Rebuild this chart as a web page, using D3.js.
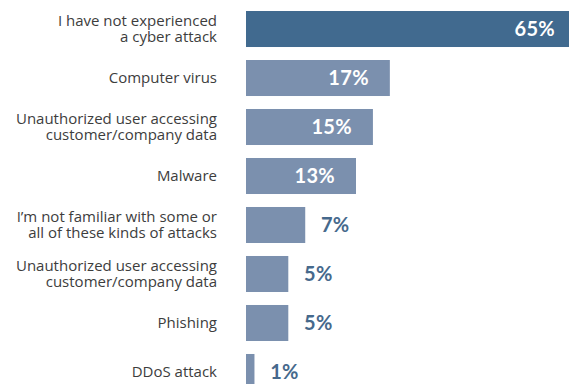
<!DOCTYPE html>
<html>
<head>
<meta charset="utf-8">
<script src="https://cdn.jsdelivr.net/npm/d3@7"></script>
<style>
  body { margin: 0; background: #fff; }
  svg { display: block; }
</style>
</head>
<body>
<div id="chart"></div>
<script>
(() => {
    // categories (each line of the label is one entry)
    let categories = [
        ["I have not experienced", "a cyber attack"],
        ["Computer virus"],
        ["Unauthorized user accessing", "customer/company data"],
        ["Malware"],
        ["I\u2019m not familiar with some or", "all of these kinds of attacks"],
        ["Unauthorized user accessing", "customer/company data"],
        ["Phishing"],
        ["DDoS attack"]
    ];
    let values = [65, 17, 15, 13, 7, 5, 5, 1];

    let w = 569;
    let h = 384;
    let left = 246;

    let svg = d3.select("#chart")
        .append("svg")
        .attr("width", w)
        .attr("height", h);

    let rows = categories.map((c, i) => ({ id: i, lines: c, value: values[i] }));

    // ~8.46px per percent, the top bar runs off the right edge
    let x = d3.scaleLinear()
        .domain([0, 65])
        .range([left, left + 550]);

    let y = d3.scaleBand()
        .domain(rows.map((d) => d.id))
        .range([11, 390])
        .paddingInner(0.265)
        .paddingOuter(0);

    svg.selectAll(".bar")
        .data(rows)
        .enter()
        .append("rect")
        .attr("class", "bar")
        .attr("x", x(0))
        .attr("y", (d) => y(d.id))
        .attr("width", (d) => x(d.value) - x(0))
        .attr("height", y.bandwidth())
        .attr("fill", (d, i) => i === 0 ? "#416a8f" : "#7b90ae");

    // category labels
    let cat = svg.selectAll(".cat")
        .data(rows)
        .enter()
        .append("text")
        .attr("class", "cat")
        .attr("text-anchor", "end")
        .attr("font-family", "'Open Sans', sans-serif")
        .attr("font-size", 15)
        .attr("fill", "#3d3d3d");

    cat.selectAll("tspan")
        .data((d) => d.lines.map((l, j) => ({ l: l, j: j, n: d.lines.length, id: d.id })))
        .enter()
        .append("tspan")
        .attr("x", 217)
        .attr("y", (t) => {
            let c = y(t.id) + y.bandwidth() / 2;
            return t.n === 1 ? c + 5 : c - 3 + t.j * 16;
        })
        .text((t) => t.l);

    // value labels: inside (white) for big bars, outside (blue) for small
    svg.selectAll(".val")
        .data(rows)
        .enter()
        .append("text")
        .attr("class", "val")
        .attr("font-family", "Lato, sans-serif")
        .attr("font-weight", "bold")
        .attr("font-size", 20)
        .attr("letter-spacing", 0.3)
        .attr("text-anchor", (d) => d.value >= 10 ? "end" : "middle")
        .attr("fill", (d) => d.value >= 10 ? "#ffffff" : "#46698c")
        .attr("x", (d) => d.value >= 10 ? Math.min(x(d.value) - 21, w - 14) : x(d.value) + 30)
        .attr("y", (d) => y(d.id) + y.bandwidth() / 2 + 7)
        .text((d) => d.value + "%");
})();
</script>
</body>
</html>
